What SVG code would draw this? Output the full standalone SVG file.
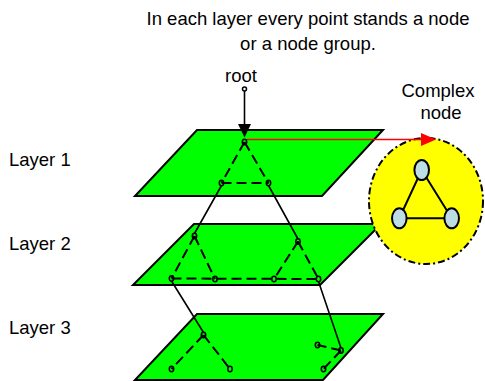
<svg xmlns="http://www.w3.org/2000/svg" width="485" height="381" viewBox="0 0 485 381">
<defs>
<style>
text{font-family:"Liberation Sans",Arial,sans-serif;font-size:18.5px;fill:#000}
.layer{fill:#00ff00;stroke:#000;stroke-width:2;stroke-linejoin:miter}
.pt{fill:none;stroke:#000;stroke-width:1.5}
.dash{stroke:#000;stroke-width:2;stroke-dasharray:10,5;fill:none}
.solid{stroke:#000;stroke-width:1.6;fill:none}
.sub{fill:#bcdde3;stroke:#000;stroke-width:2}
</style>
</defs>
<rect width="485" height="381" fill="#fff"/>
<g id="caption">
<text x="308" y="25" text-anchor="middle">In each layer every point stands a node</text>
<text x="308" y="50" text-anchor="middle">or a node group.</text>
</g>
<g id="label-root"><text x="241" y="82" text-anchor="middle">root</text></g>
<g id="label-layer1"><text x="9" y="166">Layer 1</text></g>
<g id="label-layer2"><text x="9" y="250">Layer 2</text></g>
<g id="label-layer3"><text x="9" y="334">Layer 3</text></g>
<g id="label-complex">
<text x="438" y="97" text-anchor="middle">Complex</text>
<text x="441" y="119" text-anchor="middle">node</text>
</g>
<g id="layer1">
<polygon class="layer" points="197,130 383,130 322,196 135,196"/>
<path class="dash" d="M244.5,142 L221.5,183 M244.5,142 L268.5,183 M221.5,183 L268.5,183"/>
<ellipse class="pt" cx="244.5" cy="142" rx="2.2" ry="2.7"/>
<ellipse class="pt" cx="221.5" cy="183" rx="2.2" ry="2.7"/>
<ellipse class="pt" cx="268.5" cy="183" rx="2.2" ry="2.7"/>
</g>
<g id="layer2">
<polygon class="layer" points="194,224 381,224 320,285 133,285"/>
<path class="dash" d="M194.5,236 L171.5,278.5 M194.5,236 L215,279 M298,241.5 L274,279 M298,241.5 L318.5,279 M171.5,278.5 L318.5,279"/>
<ellipse class="pt" cx="194.5" cy="236" rx="2.2" ry="2.7"/>
<ellipse class="pt" cx="298" cy="241.5" rx="2.2" ry="2.7"/>
<ellipse class="pt" cx="171.5" cy="278.5" rx="2.2" ry="2.7"/>
<ellipse class="pt" cx="215" cy="279" rx="2.2" ry="2.7"/>
<ellipse class="pt" cx="274" cy="279" rx="2.2" ry="2.7"/>
<ellipse class="pt" cx="318.5" cy="279" rx="2.2" ry="2.7"/>
</g>
<g id="layer3">
<polygon class="layer" points="197,314 383,314 323,380 135,380"/>
<path class="dash" d="M203.5,335 L171.5,369 M203.5,335 L230,369 M341,350.5 L317.5,345 M341,350.5 L323.5,369"/>
<ellipse class="pt" cx="203.5" cy="335" rx="2.2" ry="2.7"/>
<ellipse class="pt" cx="171.5" cy="369" rx="2.2" ry="2.7"/>
<ellipse class="pt" cx="230" cy="369" rx="2.2" ry="2.7"/>
<ellipse class="pt" cx="317.5" cy="345" rx="2.2" ry="2.7"/>
<ellipse class="pt" cx="341" cy="350.5" rx="2.2" ry="2.7"/>
<ellipse class="pt" cx="323.5" cy="369" rx="2.2" ry="2.7"/>
</g>
<g id="complex-node">
<ellipse cx="426" cy="201" rx="57" ry="63" fill="#ffff00" stroke="#000" stroke-width="2" stroke-dasharray="7,3,2,3"/>
<path d="M421.7,170 L399.3,218.3 L451.7,218.3 Z" stroke="#000" stroke-width="2" fill="none"/>
<ellipse class="sub" cx="421.7" cy="170" rx="7.3" ry="10"/>
<ellipse class="sub" cx="399.3" cy="218.3" rx="7.3" ry="10"/>
<ellipse class="sub" cx="451.7" cy="218.3" rx="7.3" ry="10"/>
</g>
<g id="connectors">
<path class="solid" d="M221.5,185.5 L194.5,233.5 M268.5,185.5 L298,239 M171.5,281 L203.5,332.5 M318.5,281.5 L341,348"/>
<circle cx="244.5" cy="89" r="2" fill="none" stroke="#000" stroke-width="1.5"/>
<line x1="244.5" y1="91" x2="244.5" y2="125" stroke="#000" stroke-width="1.6"/>
<polygon points="238,124 251,124 244.5,137.5" fill="#000"/>
<line x1="247" y1="139.5" x2="422" y2="139.5" stroke="#ff0000" stroke-width="1.6"/>
<polygon points="421,133 436,139.5 421,146" fill="#ff0000"/>
</g>
</svg>
